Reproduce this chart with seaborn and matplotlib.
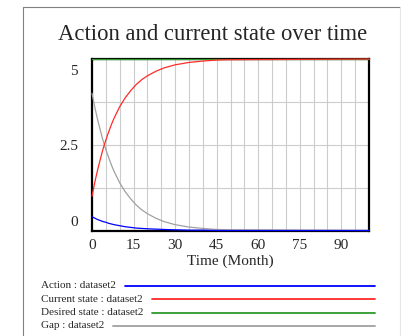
import numpy as np
import pandas as pd
import seaborn as sns
import matplotlib.pyplot as plt
from matplotlib.lines import Line2D
from matplotlib.transforms import ScaledTranslation

# values (Month)
time = [0, 1, 2, 3, 4, 5, 6, 7, 8, 10, 12, 14, 16, 18, 20, 23, 26, 30, 35, 40, 45, 50, 100]
current_state = [1.00, 1.40, 1.76, 2.08, 2.38, 2.64, 2.87, 3.09, 3.28, 3.61, 3.87, 4.08, 4.26,
                 4.40, 4.51, 4.64, 4.74, 4.83, 4.90, 4.94, 4.97, 4.98, 5.00]
gap = [4.00, 3.60, 3.24, 2.92, 2.62, 2.36, 2.13, 1.91, 1.72, 1.39, 1.13, 0.92, 0.74,
       0.60, 0.49, 0.36, 0.26, 0.17, 0.10, 0.06, 0.03, 0.02, 0.00]
action = [0.40, 0.36, 0.32, 0.29, 0.26, 0.24, 0.21, 0.19, 0.17, 0.14, 0.11, 0.09, 0.07,
          0.06, 0.05, 0.04, 0.03, 0.02, 0.01, 0.01, 0.00, 0.00, 0.00]
desired_state = [5.0] * len(time)

x_ticks = [0, 15, 30, 45, 60, 75, 90]
y_ticks = [0, 2.5, 5]
y_tick_labels = ["0", "2.5", "5"]

series_names = ["Action : dataset2", "Current state : dataset2",
                "Desired state : dataset2", "Gap : dataset2"]
series_colors = ["#0000ff", "#ff2a2a", "#2e9a2e", "#a0a0a0"]

df = pd.DataFrame({"time": time, "Action": action, "Current state": current_state,
                   "Desired state": desired_state, "Gap": gap})

sns.set_style("white")
plt.rcParams["font.family"] = ["Liberation Serif", "DejaVu Serif"]

fig = plt.figure(figsize=(4.02, 3.36), dpi=100)
ax = fig.add_axes([92 / 402, 1 - 230.5 / 336, 277 / 402, 171.5 / 336])

# draw order: gap at the bottom, action on top
cols = ["Action", "Current state", "Desired state", "Gap"]
for i, col in enumerate(cols):
    sns.lineplot(data=df, x="time", y=col, ax=ax, color=series_colors[i], lw=0.9,
                 zorder=10 - i, clip_on=False, legend=False)

ax.set_xlim(0, 100)
ax.set_ylim(0, 5)
ax.set_xticks(x_ticks)
ax.set_xticks(np.arange(0, 101, 5), minor=True)
ax.set_yticks(y_ticks)
ax.set_yticklabels(y_tick_labels)
ax.set_yticks([1.25, 3.75], minor=True)
ax.grid(which="both", color="#cccccc", lw=0.8)
ax.set_axisbelow(True)
ax.tick_params(which="both", length=0)
ax.tick_params(axis="x", labelsize=11, pad=6)
ax.tick_params(axis="y", labelsize=11, pad=10)
for s in ax.spines.values():
    s.set_color("black")
    s.set_linewidth(1.6)
    s.set_visible(True)

# shift end labels of the y axis inward like the original
ylabs = ax.get_yticklabels()
ylabs[0].set_transform(ylabs[0].get_transform() + ScaledTranslation(0, 0.10, fig.dpi_scale_trans))
ylabs[2].set_transform(ylabs[2].get_transform() + ScaledTranslation(0, -0.11, fig.dpi_scale_trans))

ax.set_xlabel("Time (Month)", fontsize=11, labelpad=2)
ax.set_ylabel("")
fig.text(213 / 402, 1 - 34 / 336, "Action and current state over time", fontsize=16.3,
         ha="center", va="center")

# outer frame
fig.add_artist(Line2D([23 / 402, 23 / 402], [0, 1 - 7 / 336], color="#808080", lw=0.8))
fig.add_artist(Line2D([23 / 402, 1], [1 - 7 / 336, 1 - 7 / 336], color="#808080", lw=0.8))
fig.add_artist(Line2D([400 / 402, 400 / 402], [0, 1 - 7 / 336], color="#e6e6e6", lw=0.8))

# legend rows: label then a line ending at a common x
fig.canvas.draw()
renderer = fig.canvas.get_renderer()
row_y = [286, 299.3, 312.6, 325.7]
for name, color, y in zip(series_names, series_colors, row_y):
    t = fig.text(41 / 402, 1 - y / 336, name, fontsize=8, ha="left", va="center")
    bb = t.get_window_extent(renderer)
    x0 = (bb.x1 + 9) / fig.bbox.width
    fig.add_artist(Line2D([x0, 375 / 402], [1 - y / 336, 1 - y / 336], color=color, lw=1.3))

fig.savefig("out.png", dpi=100)
